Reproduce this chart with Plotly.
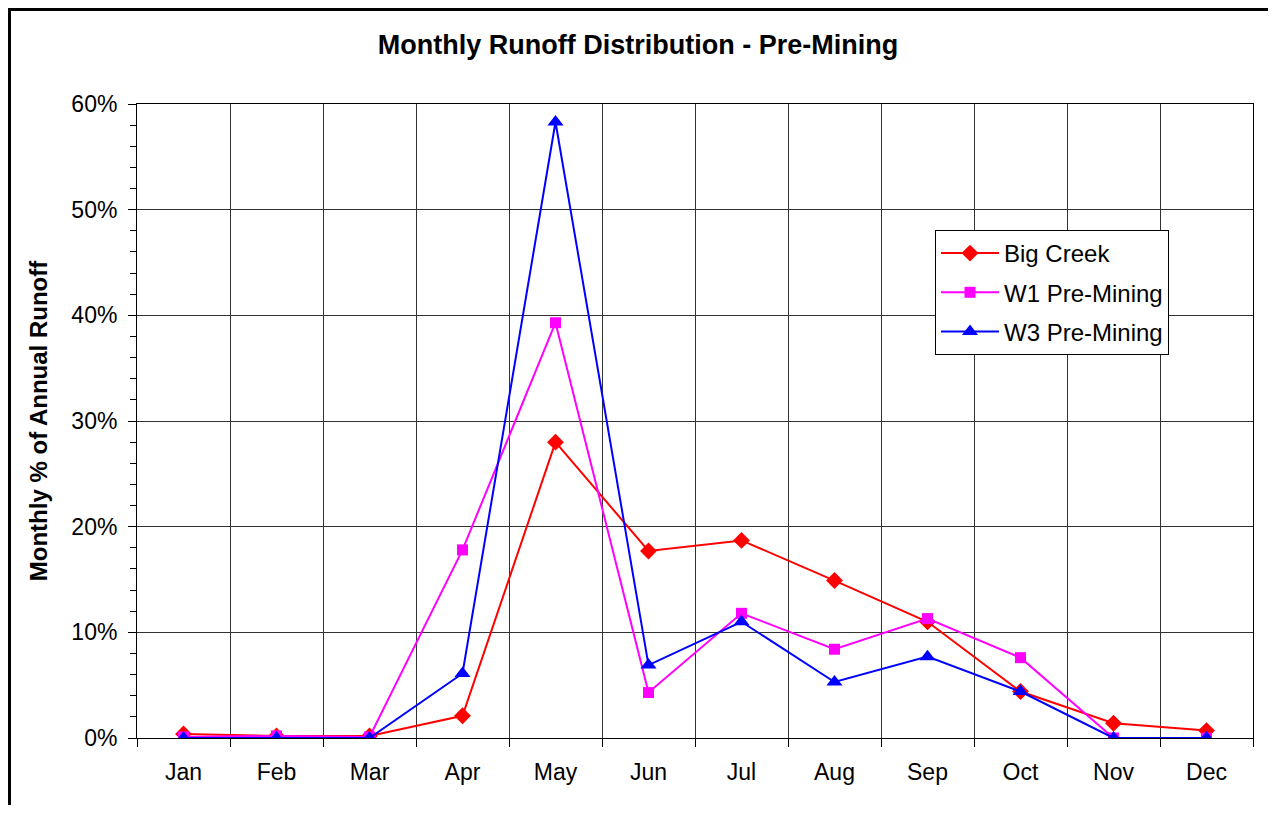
import plotly.graph_objects as go

# Monthly share of annual runoff (fraction)
months = ["Jan", "Feb", "Mar", "Apr", "May", "Jun", "Jul", "Aug", "Sep", "Oct", "Nov", "Dec"]
big_creek = [0.0038, 0.002, 0.002, 0.021, 0.280, 0.177, 0.187, 0.149, 0.110, 0.044, 0.014, 0.007]
w1_pre = [0.001, 0.002, 0.001, 0.178, 0.393, 0.043, 0.118, 0.084, 0.113, 0.076, 0.0, 0.0]
w3_pre = [0.0, 0.0, 0.0, 0.061, 0.583, 0.069, 0.110, 0.053, 0.077, 0.044, 0.0, 0.0]

font_family = "Liberation Sans, Arial, sans-serif"

fig = go.Figure()
fig.add_trace(go.Scatter(x=months, y=big_creek, name="Big Creek", mode="lines+markers",
                         legendgroup="a",
                         line=dict(color="#FF0000", width=2),
                         marker=dict(symbol="diamond", size=13, color="#FF0000")))
fig.add_trace(go.Scatter(x=months, y=w1_pre, name="W1 Pre-Mining", mode="lines+markers",
                         legendgroup="b",
                         line=dict(color="#FF00FF", width=2),
                         marker=dict(symbol="square", size=11, color="#FF00FF")))
fig.add_trace(go.Scatter(x=months, y=w3_pre, name="W3 Pre-Mining", mode="lines+markers",
                         legendgroup="c",
                         line=dict(color="#0000FF", width=2),
                         marker=dict(symbol="triangle-up", size=14, color="#0000FF")))

# page has an 8px body margin; figure coords = page coords - 8
W, H = 1260, 797
left, right, top, bottom = 129, 1245, 96, 730
pw, ph = right - left, bottom - top

# outer chart border (top and left edges visible)
fig.add_shape(type="rect", xref="paper", yref="paper",
              x0=(1.5 - left) / pw, x1=(W + 40 - left) / pw,
              y0=(bottom - H - 40) / ph, y1=(bottom - 1.5) / ph,
              line=dict(color="black", width=3), layer="below")

fig.update_layout(
    width=W, height=H,
    margin=dict(l=left, r=W - right, t=top, b=H - bottom),
    paper_bgcolor="white", plot_bgcolor="white",
    font=dict(family=font_family, size=23, color="black"),
    title=dict(text="<b>Monthly Runoff Distribution - Pre-Mining</b>",
               x=0.5, xanchor="center", yref="container", y=1 - 37 / H, yanchor="middle",
               font=dict(size=27)),
    showlegend=True,
    legend=dict(x=(927 - left) / pw, y=(bottom - 222) / ph, xanchor="left", yanchor="top",
                bgcolor="white", bordercolor="black", borderwidth=1,
                font=dict(size=24), itemwidth=58, tracegroupgap=5),
)

fig.update_xaxes(
    range=[-0.5, 11.5],
    showgrid=True, gridcolor="#333333", gridwidth=1,
    tickson="boundaries", ticks="outside", ticklen=8, tickcolor="black",
    ticklabelstandoff=13,
    showline=True, linecolor="black", linewidth=1, mirror=True,
    tickfont=dict(size=23), zeroline=False,
)
fig.update_yaxes(
    range=[0, 0.6], dtick=0.1, tickformat=".0%",
    title=dict(text="<b>Monthly % of Annual Runoff</b>", font=dict(size=24), standoff=16),
    showgrid=True, gridcolor="#333333", gridwidth=1,
    ticks="outside", ticklen=8, tickcolor="black",
    ticklabelstandoff=6,
    minor=dict(dtick=0.02, ticks="outside", ticklen=6, tickcolor="black", showgrid=False),
    showline=True, linecolor="black", linewidth=1, mirror=True,
    tickfont=dict(size=23), zeroline=False,
)

fig.write_html("out.html")
